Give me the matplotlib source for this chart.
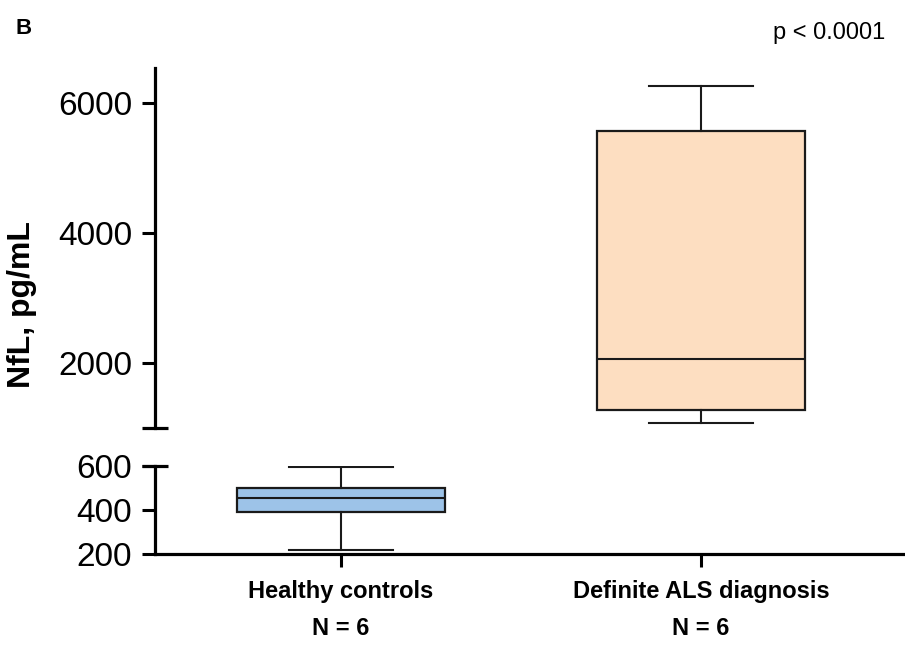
import matplotlib.pyplot as plt
from matplotlib import transforms

plt.rcParams['font.family'] = ['Liberation Sans', 'DejaVu Sans']

# box summary (pg/mL)
groups = ['Healthy controls', 'Definite ALS diagnosis']
n_per_group = [6, 6]
whisker_low = [218, 1077]
q1 = [391, 1277]
median = [455, 2060]
q3 = [500, 5570]
whisker_high = [595, 6260]
box_colors = ['#9DC3E8', '#FDDEC1']

top_ticks = [2000, 4000, 6000]
bottom_ticks = [200, 400, 600]

stats = []
for i, g in enumerate(groups):
    stats.append(dict(whislo=whisker_low[i], q1=q1[i], med=median[i], q3=q3[i],
                      whishi=whisker_high[i], fliers=[], label=g))

fig = plt.figure(figsize=(9.05, 6.56), dpi=100)
ax_top = fig.add_axes([0.1713, 0.3476, 0.8287, 0.5488])
ax_bot = fig.add_axes([0.1713, 0.1555, 0.8287, 0.1341])

edge = '#1a1a1a'
# ALS box goes in the upper panel, controls in the lower one
for ax, idx in [(ax_bot, 0), (ax_top, 1)]:
    ax.bxp([stats[idx]], positions=[idx + 1], widths=0.58, patch_artist=True,
           showfliers=False, manage_ticks=False, capwidths=0.29,
           boxprops=dict(facecolor=box_colors[idx], edgecolor=edge, linewidth=1.6),
           medianprops=dict(color=edge, linewidth=1.5),
           whiskerprops=dict(color=edge, linewidth=1.5),
           capprops=dict(color=edge, linewidth=1.5))
    ax.set_xlim(0.483, 2.567)
    for s in ['top', 'right']:
        ax.spines[s].set_visible(False)
    for s in ['left', 'bottom']:
        ax.spines[s].set_linewidth(2.3)
    ax.tick_params(axis='both', direction='out', length=9.5, width=2.2,
                   labelsize=24, pad=7)

ax_top.set_ylim(1000, 6540)
ax_top.set_yticks(top_ticks)
ax_top.spines['bottom'].set_visible(False)
ax_top.tick_params(axis='x', bottom=False, labelbottom=False)

ax_bot.set_ylim(200, 600)
ax_bot.set_yticks(bottom_ticks)
ax_bot.set_xticks([1, 2])
ax_bot.set_xticklabels([f'{g}\nN = {n}' for g, n in zip(groups, n_per_group)],
                       fontsize=17, fontweight='bold', linespacing=1.8)
ax_bot.tick_params(axis='x', pad=9)

# short caps marking the axis break
for ax, yv in [(ax_top, 1000), (ax_bot, 600)]:
    tr = transforms.blended_transform_factory(ax.transAxes, ax.transData)
    ax.plot([-0.0175, 0.0175], [yv, yv], transform=tr, color='black',
            lw=2.3, clip_on=False, solid_capstyle='butt')

fig.text(0.024, 0.535, 'NfL, pg/mL', rotation=90, fontsize=23, fontweight='bold',
         ha='center', va='center')
fig.text(0.017, 0.956, 'B', fontsize=16, fontweight='bold', va='center')
fig.text(0.978, 0.95, 'p < 0.0001', fontsize=17, ha='right', va='center')

fig.savefig('out.png', dpi=100)
